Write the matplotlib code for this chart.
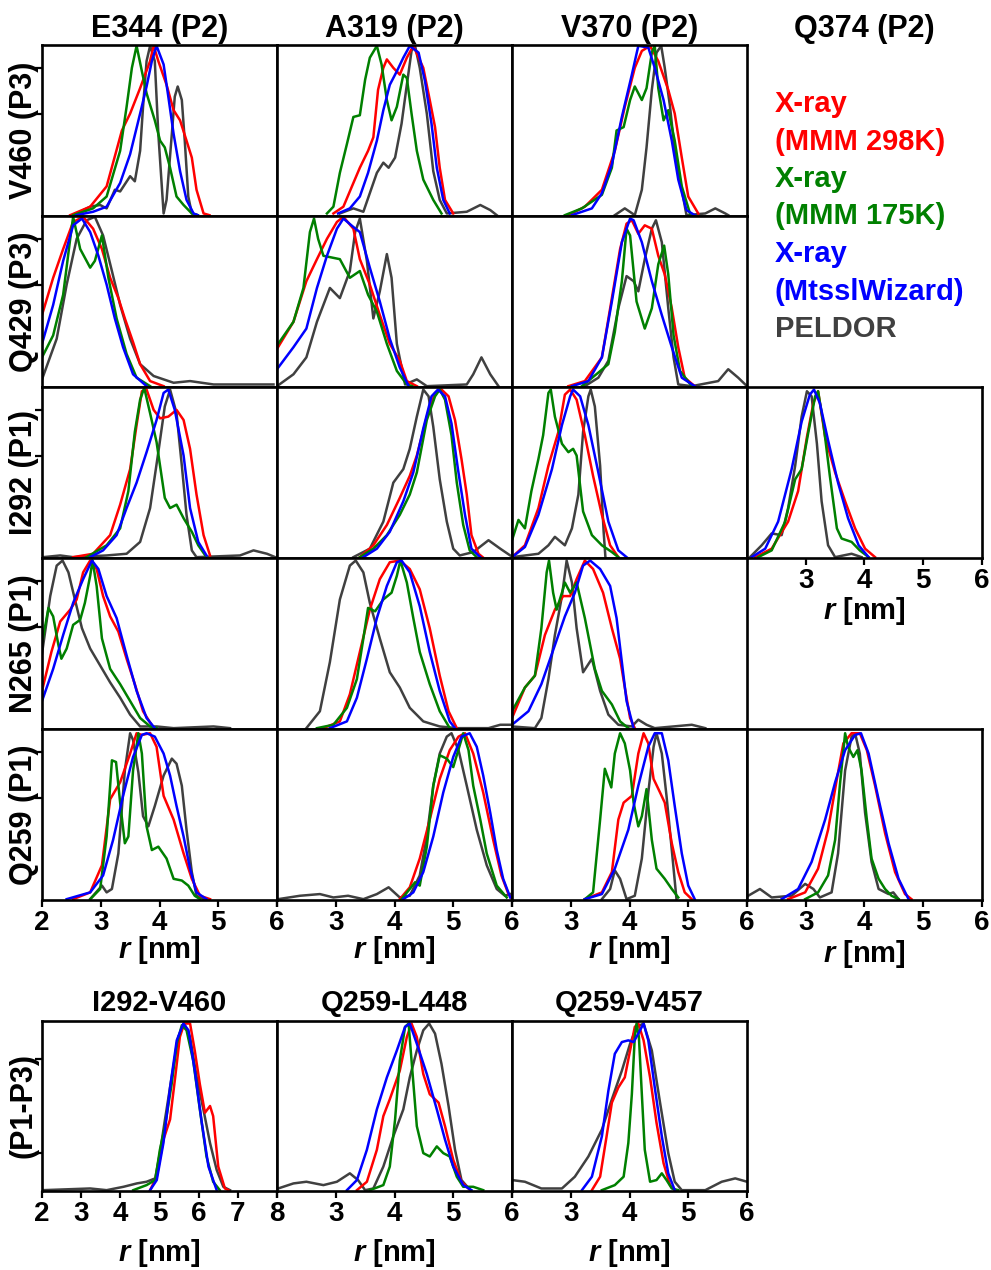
import matplotlib
matplotlib.use("Agg")
import matplotlib.pyplot as plt

plt.rcParams['font.family'] = ['Liberation Sans', 'DejaVu Sans']
plt.rcParams['font.weight'] = 'bold'
plt.rcParams['mathtext.fontset'] = 'custom'
plt.rcParams['mathtext.it'] = 'Liberation Sans:italic:bold'
plt.rcParams['mathtext.rm'] = 'Liberation Sans:bold'

# distance distributions, (r [nm], normalised P(r)) per method
# keys: 298K / 175K = MMM rotamer libraries, mw = MtsslWizard, peldor = experiment

v460_e344 = {
    '298K': [(2.48, 0), (2.82, .05), (3.10, .17), (3.36, .5), (3.50, .6), (3.67, .75), (3.84, .91), (3.90, 1.0),
             (3.98, .91), (4.12, .77), (4.24, .62), (4.35, .56), (4.46, .44), (4.55, .34), (4.63, .15), (4.75, .01), (4.85, 0)],
    '175K': [(2.53, 0), (2.87, .04), (3.10, .11), (3.33, .38), (3.44, .64), (3.53, .87), (3.61, 1.0), (3.70, .85),
             (3.78, .72), (3.92, .56), (4.01, .44), (4.09, .40), (4.18, .28), (4.29, .11), (4.41, .06), (4.55, .01), (4.65, 0)],
    'mw': [(2.59, 0), (2.87, .02), (3.10, .05), (3.33, .19), (3.50, .36), (3.67, .6), (3.78, .76), (3.87, .91), (3.95, 1.0),
           (4.07, .89), (4.15, .70), (4.24, .48), (4.35, .26), (4.46, .09), (4.58, .01), (4.65, 0)],
    'peldor': [(2.53, 0), (2.82, .05), (2.99, .06), (3.10, .04), (3.24, .15), (3.33, .14), (3.50, .23), (3.58, .2),
               (3.67, .38), (3.72, .64), (3.78, .91), (3.84, 1.0), (3.92, .91), (3.98, .48), (4.07, .01), (4.12, .09),
               (4.21, .48), (4.26, .70), (4.31, .76), (4.38, .68), (4.43, .44), (4.49, .11), (4.55, .01), (4.65, 0)],
}

v460_a319 = {
    '298K': [(2.96, .01), (3.13, .05), (3.30, .19), (3.41, .28), (3.55, .38), (3.64, .46), (3.72, .74), (3.81, .87),
             (3.87, .92), (3.98, .87), (4.09, .83), (4.21, .93), (4.32, 1.0), (4.49, .87), (4.60, .68), (4.69, .52),
             (4.77, .28), (4.86, .09), (5.00, .01)],
    '175K': [(2.85, .01), (2.96, .05), (3.07, .25), (3.19, .42), (3.30, .58), (3.41, .59), (3.50, .8), (3.58, .93),
             (3.70, 1.0), (3.78, .89), (3.87, .68), (3.95, .56), (4.04, .64), (4.15, .83), (4.21, .81), (4.29, .60),
             (4.38, .38), (4.49, .21), (4.66, .09), (4.80, .01)],
    'mw': [(3.04, .01), (3.24, .04), (3.41, .11), (3.55, .25), (3.70, .44), (3.81, .62), (3.92, .77), (4.04, .85),
           (4.15, .93), (4.26, 1.0), (4.41, .96), (4.52, .79), (4.63, .54), (4.72, .28), (4.83, .09), (4.94, .01)],
    'peldor': [(3.07, .01), (3.30, .04), (3.47, .02), (3.58, .13), (3.70, .25), (3.81, .31), (3.90, .28), (4.01, .34),
               (4.12, .54), (4.21, .77), (4.29, .97), (4.35, 1.0), (4.43, .87), (4.55, .60), (4.66, .26), (4.77, .09),
               (4.89, .01), (5.23, .02), (5.46, .06), (5.63, .03), (5.74, 0)],
}

v460_v370 = {
    '298K': [(2.96, 0), (3.24, .05), (3.53, .15), (3.75, .38), (3.92, .64), (4.09, .87), (4.21, .97), (4.35, 1.0),
             (4.49, .91), (4.66, .74), (4.77, .6), (4.89, .34), (5.00, .11), (5.17, .01)],
    '175K': [(2.90, 0), (3.19, .04), (3.53, .12), (3.70, .28), (3.78, .5), (3.90, .52), (4.01, .68), (4.09, .76),
             (4.21, .68), (4.29, .75), (4.38, .96), (4.43, 1.0), (4.49, .75), (4.58, .56), (4.66, .62), (4.77, .44),
             (4.89, .17), (5.03, .01)],
    'mw': [(3.02, 0), (3.36, .04), (3.53, .13), (3.70, .30), (3.87, .58), (4.04, .83), (4.15, 1.0), (4.32, .99),
           (4.43, .87), (4.58, .68), (4.72, .44), (4.83, .21), (4.97, .03), (5.11, 0)],
    'peldor': [(3.75, 0), (3.92, .04), (4.09, 0), (4.21, .15), (4.29, .4), (4.38, .74), (4.46, .96), (4.54, 1.0),
               (4.60, .87), (4.69, .64), (4.77, .38), (4.89, .15), (4.97, 0), (5.29, .01), (5.46, .04), (5.63, .01),
               (5.68, 0)],
}

q429_e344 = {
    '298K': [(2.0, .42), (2.19, .64), (2.36, .81), (2.53, .97), (2.70, 1.0), (2.87, .93), (3.02, .81), (3.16, .64),
             (3.30, .52), (3.41, .40), (3.55, .26), (3.67, .13), (3.84, .03), (4.07, 0)],
    '175K': [(2.0, .17), (2.19, .30), (2.36, .54), (2.48, .87), (2.53, 1.0), (2.65, .81), (2.82, .70), (2.90, .74),
             (3.02, .89), (3.13, .64), (3.27, .40), (3.44, .19), (3.61, .05), (3.84, 0)],
    'mw': [(2.0, .25), (2.19, .48), (2.36, .74), (2.53, .95), (2.68, .99), (2.82, .91), (2.96, .77), (3.10, .60),
           (3.24, .40), (3.38, .23), (3.55, .07), (3.78, 0)],
    'peldor': [(2.0, .04), (2.25, .28), (2.42, .60), (2.59, .87), (2.76, .98), (2.90, 1.0), (3.04, .89), (3.19, .68),
               (3.33, .48), (3.50, .28), (3.67, .13), (3.90, .06), (4.24, .02), (4.52, .03), (4.92, .01), (5.37, .01),
               (5.94, .01)],
}

q429_a319 = {
    '298K': [(2.0, .22), (2.28, .38), (2.50, .62), (2.68, .75), (2.85, .87), (3.02, .97), (3.13, 1.0), (3.30, .93),
             (3.41, .75), (3.58, .6), (3.75, .42), (3.92, .25), (4.09, .15), (4.21, .03), (4.38, 0)],
    '175K': [(2.0, .24), (2.28, .38), (2.45, .58), (2.56, .91), (2.63, .99), (2.70, .87), (2.79, .77), (3.07, .75),
             (3.24, .64), (3.41, .68), (3.55, .54), (3.70, .44), (3.87, .25), (4.04, .09), (4.21, .01), (4.30, 0)],
    'mw': [(2.0, .10), (2.28, .23), (2.50, .34), (2.68, .58), (2.85, .77), (3.02, .93), (3.13, .99), (3.30, .94),
           (3.41, .91), (3.58, .70), (3.75, .5), (3.92, .28), (4.09, .11), (4.24, 0)],
    'peldor': [(2.0, 0), (2.28, .07), (2.50, .17), (2.68, .38), (2.90, .58), (3.07, .52), (3.24, .68), (3.33, .91),
               (3.41, .99), (3.53, .74), (3.64, .40), (3.75, .56), (3.87, .78), (3.95, .64), (4.04, .25), (4.18, .01),
               (4.38, .04), (4.55, 0), (5.23, .01), (5.34, .07), (5.48, .17), (5.63, .07), (5.77, 0)],
}

q429_v370 = {
    '298K': [(2.96, 0), (3.24, .03), (3.53, .17), (3.70, .52), (3.84, .81), (3.95, .96), (4.04, .98), (4.15, .9),
             (4.26, .95), (4.38, .93), (4.49, .77), (4.60, .66), (4.72, .46), (4.83, .23), (4.94, .05), (5.11, 0)],
    '175K': [(3.19, 0), (3.47, .08), (3.64, .13), (3.75, .32), (3.87, .62), (3.95, .93), (4.01, .89), (4.12, .5),
             (4.26, .34), (4.38, .46), (4.49, .72), (4.59, .83), (4.66, .66), (4.75, .30), (4.86, .09), (5.06, 0)],
    'mw': [(3.02, 0), (3.30, .03), (3.53, .17), (3.70, .50), (3.87, .85), (4.01, .99), (4.07, .98), (4.21, .85),
           (4.38, .62), (4.55, .42), (4.72, .23), (4.89, .05), (5.11, 0)],
    'peldor': [(3.24, 0), (3.47, .05), (3.64, .15), (3.81, .46), (3.95, .65), (4.07, .62), (4.15, .56), (4.26, .75),
               (4.38, .93), (4.45, .98), (4.55, .85), (4.66, .46), (4.75, .17), (4.83, .01), (5.06, 0), (5.51, .03),
               (5.68, .10), (5.85, .05), (6.0, 0)],
}

i292_e344 = {
    '298K': [(2.53, 0), (2.87, .02), (3.16, .13), (3.33, .31), (3.50, .52), (3.61, .78), (3.70, .98), (3.78, .99),
             (3.90, .87), (4.01, .82), (4.15, .83), (4.29, .87), (4.41, .81), (4.52, .64), (4.63, .37), (4.75, .13),
             (4.86, .01)],
    '175K': [(2.76, 0), (3.10, .07), (3.33, .17), (3.47, .39), (3.58, .74), (3.67, .93), (3.74, 1.0), (3.84, .85),
             (3.95, .68), (4.09, .35), (4.18, .29), (4.29, .31), (4.41, .23), (4.55, .15), (4.66, .07), (4.80, 0)],
    'mw': [(2.82, 0), (3.04, .04), (3.27, .13), (3.44, .29), (3.61, .44), (3.78, .62), (3.95, .81), (4.07, .97),
           (4.15, .99), (4.26, .87), (4.41, .60), (4.52, .29), (4.66, .09), (4.80, .01)],
    'peldor': [(2.02, 0), (2.31, .01), (2.53, 0), (3.10, .01), (3.44, .02), (3.67, .09), (3.84, .29), (3.98, .62),
               (4.09, .89), (4.18, .99), (4.29, .85), (4.38, .54), (4.46, .25), (4.55, .04), (4.63, 0), (5.37, .01),
               (5.60, .04), (5.83, .02), (5.97, 0)],
}

i292_a319 = {
    '298K': [(3.41, 0), (3.64, .07), (3.87, .19), (4.09, .35), (4.26, .48), (4.38, .60), (4.55, .83), (4.69, .97),
             (4.80, .99), (4.92, .95), (5.03, .81), (5.14, .58), (5.23, .37), (5.31, .13), (5.43, .02), (5.50, 0)],
    '175K': [(3.41, 0), (3.64, .05), (3.87, .13), (4.09, .25), (4.26, .37), (4.38, .50), (4.55, .81), (4.69, .95),
             (4.77, .99), (4.86, .93), (4.97, .72), (5.06, .44), (5.17, .19), (5.28, .04), (5.40, 0)],
    'mw': [(3.47, 0), (3.70, .05), (3.92, .15), (4.15, .33), (4.32, .50), (4.49, .76), (4.63, .95), (4.74, .99),
           (4.86, .95), (4.97, .79), (5.08, .52), (5.20, .25), (5.31, .05), (5.46, 0)],
    'peldor': [(3.30, 0), (3.58, .05), (3.81, .21), (3.98, .44), (4.15, .52), (4.26, .64), (4.38, .83), (4.49, .99),
               (4.58, .95), (4.66, .77), (4.77, .46), (4.89, .21), (5.00, .05), (5.11, .01), (5.34, .03), (5.60, .10),
               (5.80, .05), (5.97, .01)],
}

i292_v370 = {
    '298K': [(2.0, 0), (2.22, .07), (2.45, .29), (2.62, .54), (2.79, .74), (2.90, .96), (2.99, .99), (3.10, .93),
             (3.24, .72), (3.38, .48), (3.53, .25), (3.67, .07), (3.81, 0)],
    '175K': [(2.0, .10), (2.11, .22), (2.22, .17), (2.33, .39), (2.45, .58), (2.53, .72), (2.62, .97), (2.66, .99),
             (2.73, .83), (2.85, .67), (2.96, .62), (3.04, .64), (3.10, .60), (3.21, .27), (3.36, .13), (3.53, .07),
             (3.70, .03), (3.81, 0)],
    'mw': [(2.0, 0), (2.22, .06), (2.45, .25), (2.68, .52), (2.85, .78), (2.99, .95), (3.04, .99), (3.16, .95),
           (3.30, .78), (3.47, .50), (3.64, .21), (3.81, .04), (3.95, 0)],
    'peldor': [(2.0, 0), (2.45, .02), (2.62, .07), (2.73, .12), (2.90, .07), (3.02, .17), (3.13, .37), (3.21, .74),
               (3.30, .95), (3.34, .99), (3.41, .89), (3.50, .54), (3.56, .15), (3.59, 0)],
}

i292_q374 = {
    '298K': [(2.14, 0), (2.42, .05), (2.70, .21), (2.87, .39), (3.02, .71), (3.13, .91), (3.21, .98), (3.33, .71),
             (3.50, .50), (3.67, .33), (3.84, .17), (4.01, .05), (4.18, 0)],
    '175K': [(2.19, 0), (2.42, .04), (2.65, .21), (2.82, .46), (2.93, .52), (3.04, .73), (3.16, .95), (3.21, .98),
             (3.30, .79), (3.41, .48), (3.53, .17), (3.61, .11), (3.78, .09), (3.92, .04), (4.07, 0)],
    'mw': [(2.08, 0), (2.31, .05), (2.53, .21), (2.76, .52), (2.93, .80), (3.07, .96), (3.14, .99), (3.24, .91),
           (3.38, .69), (3.55, .44), (3.72, .23), (3.90, .07), (4.07, 0)],
    'peldor': [(2.05, 0), (2.25, .07), (2.42, .14), (2.59, .13), (2.70, .29), (2.82, .54), (2.93, .83), (3.02, .98),
               (3.10, .95), (3.19, .67), (3.27, .33), (3.38, .07), (3.50, 0), (3.78, .02), (3.95, 0)],
}

n265_e344 = {
    '298K': [(2.0, .22), (2.16, .45), (2.31, .63), (2.48, .70), (2.59, .76), (2.70, .92), (2.82, .99), (2.93, .94),
             (3.04, .78), (3.16, .66), (3.30, .57), (3.44, .41), (3.58, .26), (3.72, .10), (3.90, 0)],
    '175K': [(2.0, .50), (2.11, .71), (2.19, .66), (2.28, .49), (2.33, .41), (2.42, .47), (2.53, .61), (2.65, .64),
             (2.73, .74), (2.82, .90), (2.86, .99), (2.93, .84), (3.02, .53), (3.16, .35), (3.33, .26), (3.50, .16),
             (3.67, .06), (3.84, .01), (3.95, 0)],
    'mw': [(2.0, .16), (2.19, .35), (2.36, .55), (2.53, .74), (2.70, .88), (2.85, .99), (2.96, .94), (3.10, .78),
           (3.27, .65), (3.44, .43), (3.61, .22), (3.78, .06), (3.92, 0)],
    'peldor': [(2.0, .44), (2.14, .78), (2.25, .96), (2.35, .99), (2.45, .92), (2.56, .76), (2.68, .59), (2.82, .47),
               (2.99, .37), (3.16, .27), (3.33, .18), (3.50, .08), (3.67, .01), (3.95, .01), (4.24, 0), (4.92, .01),
               (5.20, 0)],
}

n265_a319 = {
    '298K': [(2.79, 0), (3.07, .04), (3.24, .20), (3.41, .45), (3.58, .70), (3.75, .88), (3.92, .98), (4.09, .99),
             (4.26, .94), (4.43, .82), (4.60, .59), (4.77, .31), (4.92, .10), (5.06, 0)],
    '175K': [(2.68, 0), (2.96, .02), (3.19, .12), (3.36, .29), (3.47, .53), (3.55, .71), (3.67, .69), (3.81, .76),
             (3.95, .80), (4.04, .90), (4.10, .99), (4.21, .86), (4.32, .65), (4.43, .45), (4.60, .26), (4.77, .10),
             (4.94, 0)],
    'mw': [(2.90, 0), (3.19, .04), (3.36, .18), (3.53, .41), (3.70, .65), (3.87, .84), (4.04, .98), (4.12, .99),
           (4.26, .92), (4.43, .72), (4.60, .45), (4.77, .22), (4.94, .04), (5.03, 0)],
    'peldor': [(2.50, 0), (2.73, .10), (2.90, .39), (3.07, .76), (3.24, .96), (3.34, .99), (3.47, .92), (3.58, .74),
               (3.75, .53), (3.92, .33), (4.09, .24), (4.26, .12), (4.49, .04), (4.77, .01), (5.06, 0), (5.60, 0),
               (5.80, .02), (6.0, .02)],
}

n265_v370 = {
    '298K': [(2.0, .06), (2.22, .24), (2.39, .31), (2.56, .55), (2.73, .70), (2.87, .78), (2.99, .78), (3.10, .88),
             (3.24, .99), (3.38, .94), (3.55, .80), (3.70, .59), (3.84, .41), (3.92, .24), (4.01, .06), (4.09, 0)],
    '175K': [(2.0, .10), (2.22, .24), (2.39, .31), (2.50, .59), (2.59, .92), (2.63, .99), (2.70, .80), (2.76, .70),
             (2.85, .80), (2.90, .86), (2.99, .80), (3.10, .86), (3.24, .65), (3.41, .35), (3.53, .22), (3.70, .14),
             (3.84, .04), (3.98, 0)],
    'mw': [(2.0, .02), (2.28, .10), (2.50, .26), (2.73, .49), (2.90, .66), (3.07, .80), (3.21, .96), (3.33, .99),
           (3.50, .94), (3.67, .84), (3.78, .65), (3.87, .39), (3.95, .16), (4.07, 0)],
    'peldor': [(2.0, .01), (2.39, 0), (2.50, .06), (2.62, .29), (2.73, .55), (2.85, .78), (2.93, .99), (3.02, .86),
               (3.10, .59), (3.21, .33), (3.36, .41), (3.50, .22), (3.64, .08), (3.81, .02), (4.04, .01), (4.15, .05),
               (4.29, .02), (4.43, 0), (5.06, .02), (5.29, 0)],
}

q259_e344 = {
    '298K': [(2.53, 0), (2.82, .04), (3.02, .20), (3.16, .59), (3.33, .69), (3.50, .86), (3.61, .98), (3.70, .97),
             (3.84, .98), (3.95, .90), (4.07, .61), (4.24, .47), (4.41, .27), (4.55, .12), (4.69, .02), (4.86, 0)],
    '175K': [(2.82, 0), (2.99, .06), (3.10, .37), (3.19, .82), (3.26, .81), (3.33, .57), (3.41, .33), (3.47, .37),
             (3.55, .76), (3.64, .98), (3.70, .86), (3.78, .43), (3.87, .29), (3.98, .31), (4.12, .24), (4.24, .12),
             (4.38, .11), (4.49, .08), (4.60, .02), (4.69, 0)],
    'mw': [(2.42, 0), (2.82, .04), (3.04, .14), (3.21, .35), (3.38, .61), (3.55, .84), (3.70, .97), (3.78, .98),
           (3.92, .96), (4.07, .86), (4.18, .73), (4.29, .55), (4.41, .37), (4.52, .18), (4.63, .04), (4.80, 0)],
    'peldor': [(2.82, 0), (3.02, .08), (3.10, .04), (3.19, .06), (3.30, .27), (3.41, .76), (3.50, .98), (3.55, .94),
               (3.64, .75), (3.72, .49), (3.81, .43), (3.92, .55), (4.07, .73), (4.21, .83), (4.29, .80), (4.38, .67),
               (4.46, .41), (4.55, .16), (4.63, .02), (4.75, 0)],
}

q259_a319 = {
    '298K': [(4.09, 0), (4.26, .07), (4.43, .24), (4.60, .47), (4.77, .71), (4.94, .88), (5.09, .96), (5.20, .98),
             (5.34, .86), (5.51, .63), (5.68, .35), (5.82, .14), (5.94, .03), (6.0, 0)],
    '175K': [(4.12, 0), (4.26, .06), (4.35, .10), (4.43, .08), (4.55, .31), (4.66, .67), (4.77, .85), (4.89, .83),
             (5.00, .78), (5.12, .92), (5.17, .98), (5.26, .88), (5.34, .67), (5.46, .47), (5.57, .27), (5.74, .08),
             (5.91, .01)],
    'mw': [(4.15, 0), (4.32, .04), (4.49, .16), (4.66, .37), (4.83, .63), (5.00, .84), (5.14, .96), (5.28, .98),
           (5.40, .90), (5.51, .73), (5.63, .51), (5.74, .29), (5.85, .12), (5.97, .01)],
    'peldor': [(2.02, 0), (2.39, .02), (2.73, .03), (2.96, .01), (3.21, .02), (3.47, 0), (3.70, .03), (3.90, .07),
               (4.09, .01), (4.26, .02), (4.43, .14), (4.55, .37), (4.66, .67), (4.77, .86), (4.89, .96), (4.97, .98),
               (5.09, .88), (5.23, .67), (5.40, .41), (5.57, .20), (5.74, .06), (5.88, .02), (5.97, .03)],
}

q259_v370 = {
    '298K': [(3.24, 0), (3.53, .04), (3.70, .16), (3.81, .47), (3.90, .57), (4.04, .61), (4.15, .86), (4.24, .98),
             (4.32, .92), (4.41, .71), (4.52, .63), (4.60, .57), (4.72, .33), (4.83, .16), (4.94, .04), (5.06, 0)],
    '175K': [(3.24, 0), (3.38, .04), (3.50, .47), (3.58, .77), (3.69, .66), (3.75, .86), (3.84, .98), (3.92, .92),
             (4.01, .76), (4.07, .57), (4.15, .43), (4.21, .49), (4.29, .65), (4.38, .35), (4.46, .18), (4.60, .12),
             (4.72, .06), (4.83, .01)],
    'mw': [(3.24, 0), (3.53, .03), (3.75, .18), (3.98, .41), (4.15, .67), (4.32, .90), (4.43, .98), (4.55, .98),
           (4.66, .82), (4.77, .55), (4.89, .27), (5.00, .08), (5.11, 0)],
    'peldor': [(3.53, 0), (3.67, .06), (3.75, .17), (3.84, .12), (3.95, 0), (4.09, .02), (4.21, .24), (4.32, .63),
               (4.41, .90), (4.46, .98), (4.55, .86), (4.63, .61), (4.72, .29), (4.80, 0)],
}

q259_q374 = {
    '298K': [(2.70, 0), (2.99, .04), (3.21, .18), (3.38, .41), (3.53, .71), (3.64, .92), (3.78, .98), (3.92, .98),
             (4.04, .88), (4.18, .67), (4.35, .39), (4.52, .16), (4.69, .03), (4.80, 0)],
    '175K': [(2.99, 0), (3.21, .04), (3.38, .14), (3.50, .35), (3.58, .67), (3.67, .98), (3.72, .90), (3.81, .84),
             (3.88, .88), (3.95, .76), (4.04, .47), (4.12, .24), (4.24, .12), (4.35, .06), (4.46, .02), (4.58, 0)],
    'mw': [(2.59, 0), (2.87, .06), (3.10, .22), (3.33, .47), (3.50, .69), (3.67, .88), (3.84, .97), (3.94, .98),
           (4.07, .86), (4.24, .59), (4.41, .33), (4.58, .12), (4.75, 0)],
    'peldor': [(2.02, .02), (2.22, .06), (2.42, .01), (2.76, .02), (2.99, .09), (3.13, .06), (3.24, .01), (3.44, .04),
               (3.55, .27), (3.67, .76), (3.78, .96), (3.84, .98), (3.92, .86), (4.01, .51), (4.12, .22), (4.24, .06),
               (4.41, .03), (4.49, .04), (4.58, 0)],
}

i292_v460 = {
    '298K': [(4.76, 0), (4.93, .08), (5.10, .30), (5.27, .42), (5.40, .67), (5.52, .91), (5.63, .99), (5.78, .99),
             (5.90, .83), (6.03, .63), (6.16, .46), (6.29, .50), (6.37, .44), (6.50, .14), (6.67, .01), (6.76, 0)],
    '175K': [(4.33, 0), (4.67, .03), (4.89, .06), (5.01, .24), (5.14, .38), (5.31, .63), (5.44, .87), (5.57, .98),
             (5.69, .95), (5.86, .77), (6.03, .48), (6.20, .20), (6.37, .05), (6.54, 0)],
    'mw': [(4.76, 0), (4.93, .06), (5.10, .28), (5.27, .61), (5.44, .89), (5.61, .99), (5.74, .95), (5.90, .71),
           (6.08, .40), (6.25, .14), (6.46, 0)],
    'peldor': [(2.03, 0), (3.23, .01), (3.65, 0), (4.08, .02), (4.42, .04), (4.67, .05), (4.89, .07), (5.01, .22),
               (5.14, .42), (5.31, .67), (5.48, .91), (5.63, .99), (5.78, .91), (5.95, .67), (6.12, .48), (6.29, .28),
               (6.46, .12), (6.63, .02), (6.80, 0)],
}

q259_l448 = {
    '298K': [(3.36, 0), (3.53, .05), (3.70, .24), (3.81, .44), (3.92, .54), (4.09, .71), (4.21, .91), (4.29, .99),
             (4.38, .91), (4.49, .69), (4.60, .57), (4.75, .52), (4.86, .38), (5.00, .18), (5.14, .05), (5.29, 0)],
    '175K': [(3.58, 0), (3.81, .03), (3.92, .14), (4.01, .42), (4.09, .77), (4.18, .97), (4.24, .99), (4.29, .77),
             (4.38, .38), (4.49, .22), (4.60, .20), (4.72, .26), (4.83, .22), (4.94, .20), (5.06, .08), (5.17, .02),
             (5.34, .02), (5.51, 0)],
    'mw': [(3.19, 0), (3.36, .06), (3.53, .24), (3.70, .48), (3.87, .67), (4.04, .83), (4.18, .97), (4.26, .99),
           (4.38, .87), (4.55, .69), (4.72, .48), (4.86, .30), (5.00, .14), (5.17, .03), (5.31, 0)],
    'peldor': [(2.02, .01), (2.28, .04), (2.50, .05), (2.79, .03), (3.02, .05), (3.24, .10), (3.38, .06), (3.50, 0),
               (3.64, .01), (3.81, .14), (3.98, .32), (4.15, .48), (4.26, .67), (4.38, .83), (4.49, .95), (4.59, .99),
               (4.69, .93), (4.80, .75), (4.92, .50), (5.03, .24), (5.14, .06), (5.29, 0)],
}

q259_v457 = {
    '298K': [(3.36, 0), (3.50, .08), (3.61, .32), (3.70, .52), (3.81, .61), (3.92, .67), (4.01, .83), (4.09, .97),
             (4.15, .99), (4.24, .89), (4.35, .67), (4.46, .40), (4.58, .16), (4.69, .03), (4.77, 0)],
    '175K': [(3.53, 0), (3.75, .03), (3.90, .08), (3.98, .28), (4.04, .57), (4.09, .91), (4.12, .99), (4.16, .91),
             (4.21, .57), (4.26, .24), (4.35, .05), (4.46, .06), (4.55, .10), (4.63, .06), (4.72, .01), (4.83, 0)],
    'mw': [(3.19, 0), (3.36, .08), (3.53, .32), (3.64, .59), (3.75, .81), (3.87, .88), (3.98, .89), (4.07, .88),
           (4.15, .93), (4.24, .99), (4.32, .89), (4.43, .61), (4.55, .32), (4.66, .10), (4.77, 0)],
    'peldor': [(2.0, .06), (2.22, .05), (2.50, .01), (2.85, .01), (3.07, .08), (3.30, .20), (3.53, .36), (3.70, .54),
               (3.87, .71), (4.01, .87), (4.12, .97), (4.24, .99), (4.38, .83), (4.52, .52), (4.66, .22), (4.77, .05),
               (4.89, 0), (5.29, 0), (5.57, .05), (5.80, .07), (6.0, .05)],
}

row_labels = ['V460 (P3)', 'Q429 (P3)', 'I292 (P1)', 'N265 (P1)', 'Q259 (P1)']
col_labels = ['E344 (P2)', 'A319 (P2)', 'V370 (P2)', 'Q374 (P2)']
grid = [
    [v460_e344, v460_a319, v460_v370, None],
    [q429_e344, q429_a319, q429_v370, None],
    [i292_e344, i292_a319, i292_v370, i292_q374],
    [n265_e344, n265_a319, n265_v370, None],
    [q259_e344, q259_a319, q259_v370, q259_q374],
]
pair_labels = ['I292-V460', 'Q259-L448', 'Q259-V457']
pair_panels = [i292_v460, q259_l448, q259_v457]

colors = {'peldor': '#404040', '298K': '#ff0000', '175K': '#008000', 'mw': '#0000ff'}
legend_lines = [('X-ray', '298K'), ('(MMM 298K)', '298K'), ('X-ray', '175K'), ('(MMM 175K)', '175K'),
                ('X-ray', 'mw'), ('(MtsslWizard)', 'mw'), ('PELDOR', 'peldor')]

W, H = 991, 1270
fig = plt.figure(figsize=(W / 100, H / 100), dpi=100)


def add_panel(x0, y0, w, h):
    """axes placed in pixel coordinates (top-left origin)"""
    return fig.add_axes([x0 / W, 1 - (y0 + h) / H, w / W, h / H])


def draw(ax, curves, xmax=6, first=False, xticks=False, yticks=(0.6, 0.87)):
    for key in ['peldor', '298K', '175K', 'mw']:
        r = [p[0] for p in curves[key]]
        v = [p[1] for p in curves[key]]
        ax.plot(r, v, color=colors[key], lw=1.8, solid_joinstyle='round')
    ax.set_xlim(2, xmax)
    ax.set_ylim(-0.005, 1.005)
    for s in ax.spines.values():
        s.set_linewidth(1.9)
    ax.tick_params(direction='out', length=5, width=1.6, labelsize=20, pad=2)
    ticks = list(range(2, xmax + 1))
    ax.set_xticks(ticks)
    if xticks:
        ax.set_xticklabels([str(t) if (first or t > 2) else '' for t in ticks], fontweight='bold')
    else:
        ax.tick_params(axis='x', length=0, labelbottom=False)
    if first:
        ax.set_yticks(list(yticks))
        ax.set_yticklabels([])
    else:
        ax.set_yticks([])


col_x = [42, 277, 512, 747]
row_y = [45, 216, 387, 558, 729]
pw, ph = 235, 171

for i, row in enumerate(grid):
    for j, curves in enumerate(row):
        if curves is None:
            continue
        ax = add_panel(col_x[j], row_y[i], pw, ph)
        show_x = i == 4 or (i == 2 and j == 3)
        draw(ax, curves, first=(j == 0), xticks=show_x)
    fig.text(24 / W, 1 - (row_y[i] + ph / 2) / H, row_labels[i], rotation=90,
             ha='center', va='center', fontsize=22, fontweight='bold')

for j, lab in enumerate(col_labels):
    fig.text((col_x[j] + pw / 2) / W, 1 - 29 / H, lab, ha='center', va='center',
             fontsize=22, fontweight='bold')

xlab = r'$r$ [nm]'
for j in range(4):
    fig.text((col_x[j] + pw / 2) / W, 1 - (950 if j < 3 else 954) / H, xlab, ha='center', va='center',
             fontsize=21, fontweight='bold')
fig.text((col_x[3] + pw / 2) / W, 1 - 611 / H, xlab, ha='center', va='center',
         fontsize=21, fontweight='bold')

for k, (txt, key) in enumerate(legend_lines):
    fig.text(775 / W, 1 - (104 + 37.5 * k) / H, txt, color=colors[key], ha='left', va='center',
             fontsize=21, fontweight='bold')

# inter-domain pairs underneath
by = 1021
for j, curves in enumerate(pair_panels):
    ax = add_panel(col_x[j], by, pw, 170)
    draw(ax, curves, xmax=8 if j == 0 else 6, first=(j == 0), xticks=True, yticks=(0.22, 0.78))
    fig.text((col_x[j] + pw / 2) / W, 1 - 1003 / H, pair_labels[j], ha='center', va='center',
             fontsize=21, fontweight='bold')
    fig.text((col_x[j] + pw / 2) / W, 1 - 1253 / H, xlab, ha='center', va='center',
             fontsize=21, fontweight='bold')
fig.text(24 / W, 1 - (by + 85) / H, '(P1-P3)', rotation=90, ha='center', va='center',
         fontsize=22, fontweight='bold')

fig.savefig('out.png', dpi=100)
